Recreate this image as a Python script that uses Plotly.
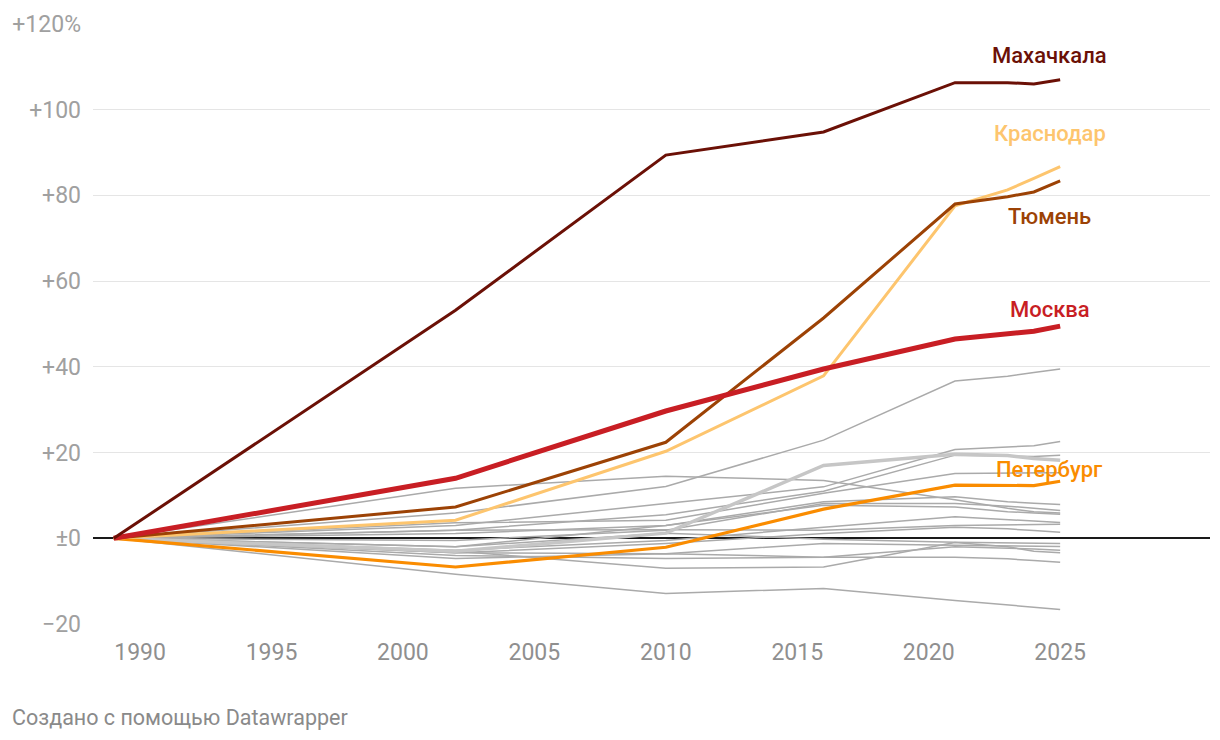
import plotly.graph_objects as go

years = [1989, 2002, 2010, 2016, 2021, 2023, 2024, 2025]

makhachkala = [0, 53.2, 89.4, 94.8, 106.3, 106.3, 106.0, 107.0]
krasnodar = [0, 4.2, 20.3, 37.9, 77.6, 81.3, 84.0, 86.7]
tyumen = [0, 7.3, 22.4, 51.4, 78.0, 79.7, 80.8, 83.4]
moscow = [0, 14.0, 29.7, 39.5, 46.5, 47.6, 48.3, 49.5]
petersburg = [0, -6.7, -2.1, 6.8, 12.4, 12.4, 12.3, 13.3]

gray_lines = [
    [0, 5.9, 12.1, 22.9, 36.7, 37.8, 38.7, 39.5],
    [0, 11.7, 14.5, 13.5, 9.0, 7.0, 6.2, 5.9],
    [0, 3.0, 8.1, 12.0, 20.7, 21.2, 21.6, 22.6],
    [0, 1.9, 5.5, 11.0, 19.4, 19.2, 19.1, 19.4],
    [0, 3.6, 4.2, 10.5, 15.1, 15.2, 15.2, 15.3],
    [0, 1.1, 3.0, 8.5, 9.7, 8.5, 8.2, 7.9],
    [0, -0.5, 1.9, 8.1, 8.1, 7.5, 7.0, 6.5],
    [0, -2.0, 3.0, 7.7, 7.3, 6.2, 5.9, 5.6],
    [0, -2.8, -0.5, 2.6, 5.0, 4.3, 4.0, 3.7],
    [0, 1.9, 2.0, 1.9, 3.0, 3.1, 3.2, 3.3],
    [0, -3.4, -1.2, 1.1, 2.6, 2.2, 1.8, 1.4],
    [0, -2.0, 1.2, -0.2, -0.9, -1.0, -1.1, -1.2],
    [0, -3.4, -3.6, -1.2, -1.6, -1.7, -1.8, -1.9],
    [0, -4.0, -4.7, -4.4, -2.0, -2.3, -2.5, -2.8],
    [0, -3.0, -7.0, -6.7, -1.0, -2.0, -3.0, -3.4],
    [0, -4.7, -3.6, -4.4, -4.4, -4.8, -5.2, -5.6],
    [0, -8.4, -12.9, -11.7, -14.5, -15.5, -16.0, -16.6],
]
light_gray_line = [0, -3.0, 1.2, 17.0, 19.6, 19.3, 18.6, 18.2]

y_ticks = [-20, 0, 20, 40, 60, 80, 100, 120]
y_tick_text = ["−20", "±0", "+20", "+40", "+60", "+80", "+100", "+120%"]
x_ticks = [1990, 1995, 2000, 2005, 2010, 2015, 2020, 2025]

labels = [
    ("Махачкала", 112.6, "#6b1006"),
    ("Краснодар", 94.4, "#fdc56e"),
    ("Тюмень", 75.2, "#9c4205"),
    ("Москва", 53.3, "#c81e24"),
    ("Петербург", 16.1, "#fa8c00"),
]
label_x = 2024.6

W, H = 1212, 732
L, T = 85, 16
PW, PH = 1117, 599.6

fig = go.Figure()

for g in gray_lines:
    fig.add_trace(go.Scatter(x=years, y=g, mode="lines",
                             line=dict(color="#aaaaaa", width=1.5), hoverinfo="skip"))
fig.add_trace(go.Scatter(x=years, y=light_gray_line, mode="lines",
                         line=dict(color="#c6c6c6", width=3.5), hoverinfo="skip"))

fig.add_trace(go.Scatter(x=years, y=petersburg, mode="lines",
                         line=dict(color="#fa8c00", width=3.2)))
fig.add_trace(go.Scatter(x=years, y=krasnodar, mode="lines",
                         line=dict(color="#fdc56e", width=3)))
fig.add_trace(go.Scatter(x=years, y=tyumen, mode="lines",
                         line=dict(color="#9c4205", width=3)))
fig.add_trace(go.Scatter(x=years, y=moscow, mode="lines",
                         line=dict(color="#c81e24", width=5)))
fig.add_trace(go.Scatter(x=years, y=makhachkala, mode="lines",
                         line=dict(color="#6b1006", width=3)))

for text, yv, col in labels:
    fig.add_annotation(x=label_x, y=yv, text=text, showarrow=False,
                       xanchor="center", yanchor="middle",
                       font=dict(family="Roboto", size=22, color=col, weight=500))

fig.add_annotation(xref="paper", yref="paper", x=-L / PW, y=-(709 - (T + PH)) / PH,
                   text="Создано с помощью Datawrapper", showarrow=False,
                   xanchor="left", yanchor="middle", xshift=2,
                   font=dict(family="Roboto", size=21.5, color="#8a8a8a"))

fig.update_layout(
    width=W, height=H,
    margin=dict(l=L, r=W - L - PW, t=T, b=H - T - PH, autoexpand=False),
    paper_bgcolor="white", plot_bgcolor="white",
    showlegend=False,
    font=dict(family="Roboto", color="#a0a0a0", size=23),
    xaxis=dict(range=[1988.21, 2030.7], tickvals=x_ticks, showgrid=False,
               zeroline=False, showline=False, ticks="", ticklabelstandoff=12,
               automargin=False,
               tickfont=dict(size=23, color="#8f8f8f")),
    yaxis=dict(range=[-20, 120], tickvals=y_ticks, ticktext=y_tick_text,
               showgrid=True, gridcolor="#e5e5e5", gridwidth=1.2,
               zeroline=True, zerolinecolor="#1a1a1a", zerolinewidth=1.8,
               showline=False, ticks="", ticklabelstandoff=11,
               automargin=False,
               tickfont=dict(size=23, color="#a0a0a0")),
)

fig.write_html("out.html")
